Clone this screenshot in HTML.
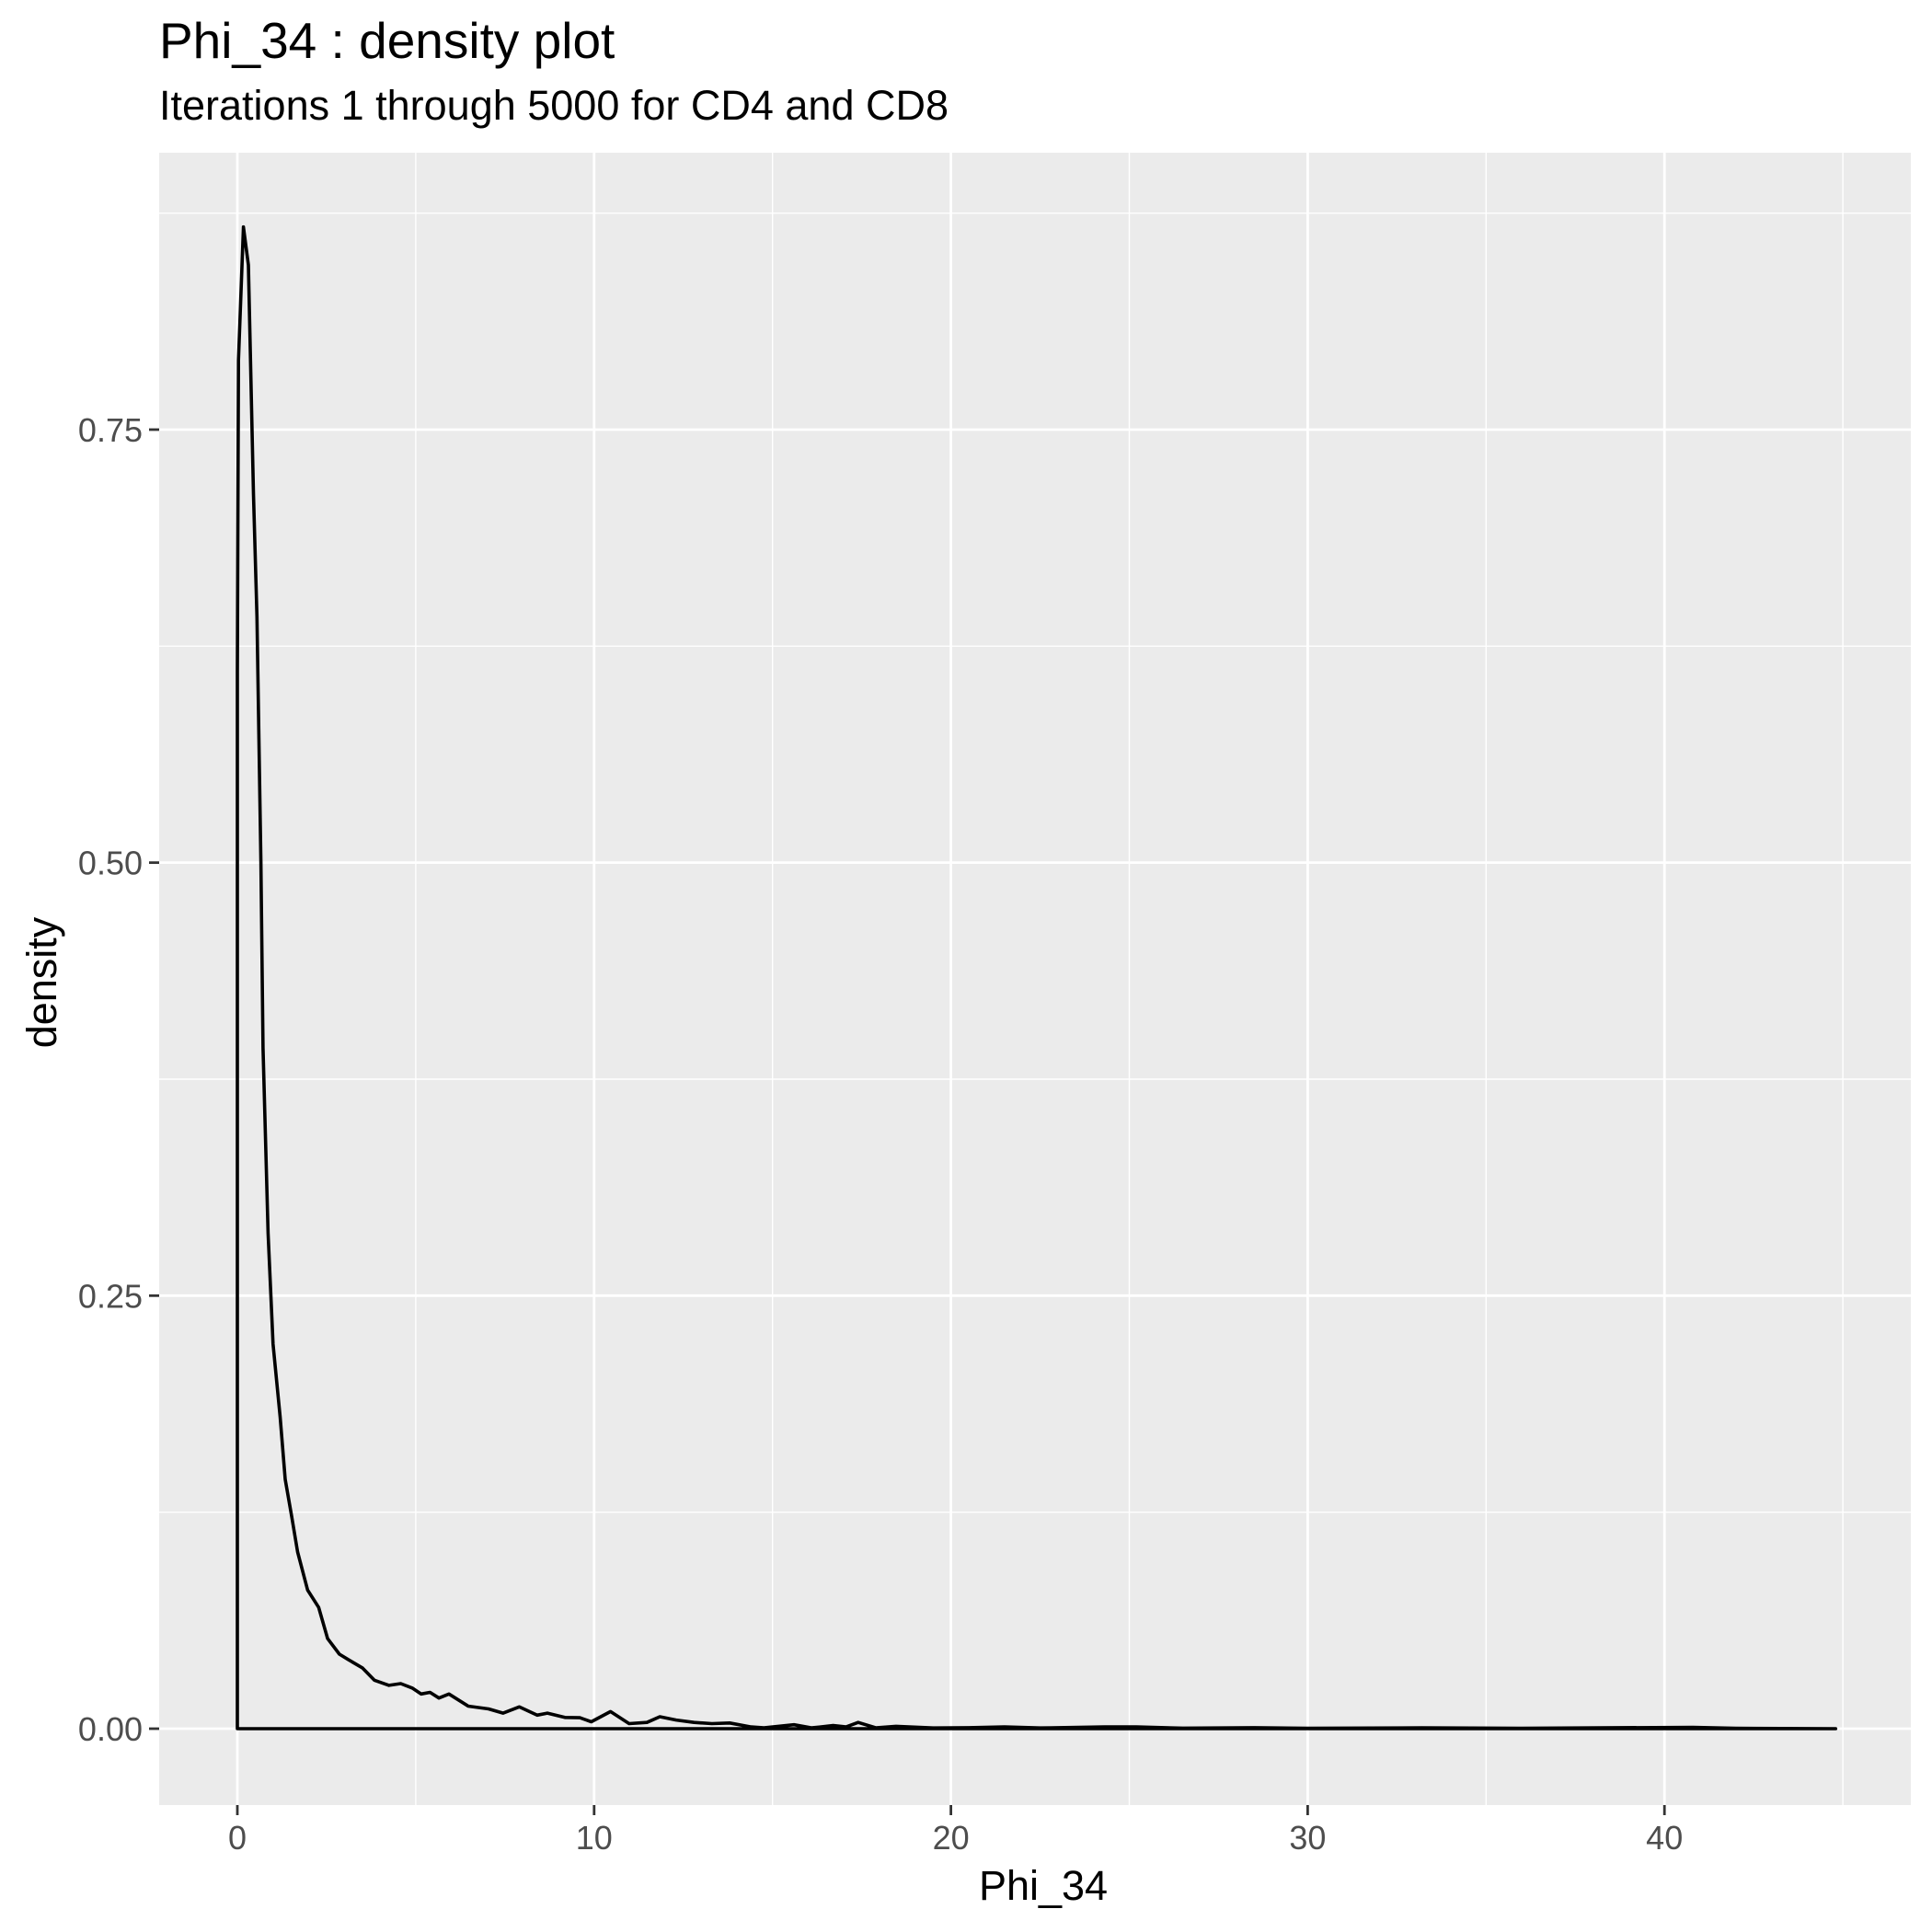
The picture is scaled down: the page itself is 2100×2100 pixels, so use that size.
<!DOCTYPE html>
<html><head><meta charset="utf-8"><style>
html,body{margin:0;padding:0;background:#fff;}
svg{display:block;font-family:"Liberation Sans",sans-serif;}
</style></head><body>
<svg id="chart" width="2100" height="2100" viewBox="0 0 2100 2100">
<rect width="2100" height="2100" fill="#fff"/>
<text x="173" y="63" font-size="55" fill="#000">Phi_34 : density plot</text>
<text x="173" y="130" font-size="45" fill="#000">Iterations 1 through 5000 for CD4 and CD8</text>
<rect x="173" y="166" width="1904" height="1796" fill="#ebebeb"/>
<g id="grid"></g>
<g id="axes"></g>
<path id="curve" fill="none" stroke="#000" stroke-width="3.6" stroke-linejoin="round"/>
<text x="1134" y="2065" font-size="45" text-anchor="middle" fill="#000">Phi_34</text>
<text x="0" y="0" font-size="45" text-anchor="middle" fill="#000" transform="translate(61,1068) rotate(-90)">density</text>
</svg>
<script>
const xs = [0,0,0.03,0.17,0.31,0.45,0.55,0.66,0.72,0.86,1.0,1.2,1.34,1.52,1.69,1.97,2.28,2.53,2.86,3.1,3.51,3.84,4.25,4.58,4.9,5.15,5.4,5.65,5.93,6.47,7.04,7.45,7.9,8.4,8.69,9.18,9.6,9.92,10.46,10.98,11.48,11.84,12.3,12.8,13.3,13.8,14.4,14.76,15.6,16.1,16.7,17.06,17.4,17.9,18.46,19.5,20.5,21.5,22.5,24.3,25.2,26.5,28.5,30,33.2,36,40.8,42,44.8];
const ys = [0,0.61,0.79,0.867,0.845,0.713,0.642,0.50,0.393,0.286,0.222,0.18,0.144,0.123,0.102,0.080,0.070,0.052,0.043,0.040,0.035,0.028,0.025,0.026,0.0235,0.020,0.021,0.0177,0.020,0.013,0.0114,0.009,0.0126,0.0078,0.009,0.0065,0.0063,0.004,0.0099,0.0029,0.0036,0.0069,0.005,0.0036,0.0029,0.0033,0.001,0.0005,0.0023,0.0005,0.0018,0.001,0.0036,0.0005,0.0014,0.0004,0.0006,0.001,0.0004,0.001,0.001,0.0003,0.0006,0.0002,0.0005,0.0002,0.0008,0.0002,0.0];
const xTicks = [0,10,20,30,40];
const xMinor = [5,15,25,35,45];
const yTicks = [0,0.25,0.5,0.75];
const yTickLabels = ["0.00","0.25","0.50","0.75"];
const yMinor = [0.125,0.375,0.625,0.875];

const X = v => 258 + v*38.78;
const Y = v => 1879 - v*1882.7;
const NS = "http://www.w3.org/2000/svg";
const grid = document.getElementById('grid');
const axes = document.getElementById('axes');
function mk(tag, attrs, parent){const e=document.createElementNS(NS,tag);for(const k in attrs)e.setAttribute(k,attrs[k]);parent.appendChild(e);return e;}
yMinor.forEach(v=>{const l=mk('line',{x1:173,x2:2077,y1:Y(v),y2:Y(v),stroke:'#fff','stroke-width':1.4},grid);

});
xMinor.forEach(v=>{if(X(v)>2077)return;const l=mk('line',{x1:X(v),x2:X(v),y1:166,y2:1962,stroke:'#fff','stroke-width':1.4},grid);

});
yTicks.forEach((v,i)=>{const l=mk('line',{x1:173,x2:2077,y1:Y(v),y2:Y(v),stroke:'#fff','stroke-width':2.8},grid);


const t=mk('line',{x1:162,x2:173,y1:Y(v),y2:Y(v),stroke:'#333','stroke-width':2.8},axes);


const tx=mk('text',{x:155,y:Y(v)+13,'font-size':36,'text-anchor':'end',fill:'#4d4d4d'},axes);
tx.textContent=yTickLabels[i];

});
xTicks.forEach(v=>{const l=mk('line',{x1:X(v),x2:X(v),y1:166,y2:1962,stroke:'#fff','stroke-width':2.8},grid);


const t=mk('line',{x1:X(v),x2:X(v),y1:1962,y2:1973,stroke:'#333','stroke-width':2.8},axes);


const tx=mk('text',{x:X(v),y:2010,'font-size':36,'text-anchor':'middle',fill:'#4d4d4d'},axes);
tx.textContent=String(v);

});
let d='';
xs.forEach((x,i)=>{d+=(i?'L':'M')+X(x).toFixed(1)+','+Y(ys[i]).toFixed(1);});
d+='L'+X(xs[0]).toFixed(1)+','+Y(0).toFixed(1)+'Z';
document.getElementById('curve').setAttribute('d',d);
</script>
</body></html>
